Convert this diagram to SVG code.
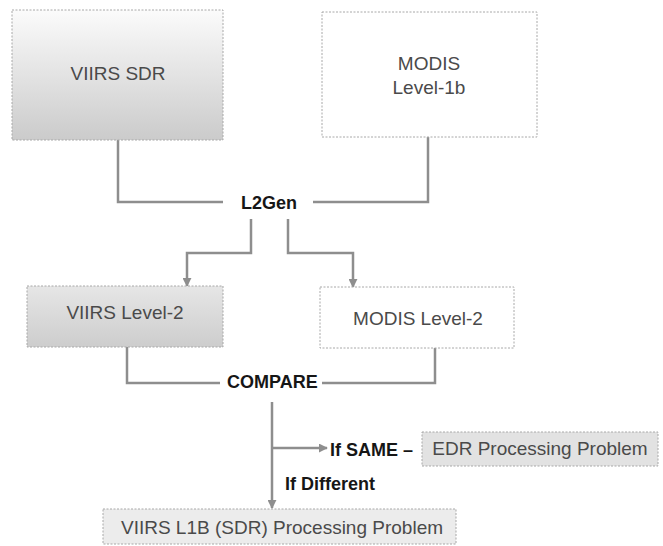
<svg xmlns="http://www.w3.org/2000/svg" width="663" height="546" viewBox="0 0 663 546">
  <style>
    .box { stroke: #a8a8a8; stroke-width: 1; stroke-dasharray: 2 1.5; }
    .lbl { font-family: "Liberation Sans", Arial, sans-serif; font-size: 19px; fill: #4a4a4a; text-anchor: middle; }
    .bold { font-family: "Liberation Sans", Arial, sans-serif; font-size: 18px; font-weight: bold; fill: #161616; }
    .conn { fill: none; stroke: #8e8e8e; stroke-width: 2.5; }
  </style>
  <defs>
    <linearGradient id="gSdr" x1="0" y1="0" x2="0" y2="1">
      <stop offset="0" stop-color="#fbfbfb"/>
      <stop offset="1" stop-color="#cbcbcb"/>
    </linearGradient>
    <linearGradient id="gL2" x1="0" y1="0" x2="0" y2="1">
      <stop offset="0" stop-color="#e6e6e6"/>
      <stop offset="1" stop-color="#cdcdcd"/>
    </linearGradient>
    <marker id="arr" viewBox="0 0 10 10" refX="9" refY="5" markerWidth="9" markerHeight="9" markerUnits="userSpaceOnUse" orient="auto">
      <path d="M0,0 L10,5 L0,10 z" fill="#8e8e8e"/>
    </marker>
  </defs>

  <g id="connectors">
    <path class="conn" d="M118,140 V202 H223"/>
    <path class="conn" d="M428,137 V202 H313"/>
    <path class="conn" d="M251,219 V253 H187 V286" marker-end="url(#arr)"/>
    <path class="conn" d="M288,219 V253 H353 V287" marker-end="url(#arr)"/>
    <path class="conn" d="M127,347 V383 H220"/>
    <path class="conn" d="M435,348 V383 H322"/>
    <path class="conn" d="M272,402 V508" marker-end="url(#arr)"/>
    <path class="conn" d="M272,448 H327" marker-end="url(#arr)"/>
  </g>

  <g id="viirs-sdr">
    <rect class="box" x="12" y="10" width="211" height="130" fill="url(#gSdr)"/>
    <text class="lbl" x="118" y="80">VIIRS SDR</text>
  </g>

  <g id="modis-l1b">
    <rect class="box" x="322" y="12" width="215" height="125" fill="#ffffff" stroke="#d4d4d4"/>
    <text class="lbl" x="429" y="70">MODIS</text>
    <text class="lbl" x="429" y="94">Level-1b</text>
  </g>

  <g id="l2gen">
    <text class="bold" x="241" y="209">L2Gen</text>
  </g>

  <g id="viirs-l2">
    <rect class="box" x="27" y="286" width="196" height="61" fill="url(#gL2)"/>
    <text class="lbl" x="125" y="319">VIIRS Level-2</text>
  </g>

  <g id="modis-l2">
    <rect class="box" x="320" y="287" width="194" height="61" fill="#ffffff" stroke="#d0d0d0"/>
    <text class="lbl" x="418" y="325">MODIS Level-2</text>
  </g>

  <g id="compare">
    <text class="bold" x="227" y="388" font-size="17">COMPARE</text>
  </g>

  <g id="if-same">
    <text class="bold" x="330" y="456">If SAME –</text>
  </g>

  <g id="edr-problem">
    <rect class="box" x="422" y="432" width="236" height="34" fill="#e2e2e2"/>
    <text class="lbl" x="540" y="455">EDR Processing Problem</text>
  </g>

  <g id="if-different">
    <text class="bold" x="285" y="490">If Different</text>
  </g>

  <g id="viirs-l1b-problem">
    <rect class="box" x="103" y="509" width="353" height="35" fill="#ececec"/>
    <text class="lbl" x="282" y="534">VIIRS L1B (SDR) Processing Problem</text>
  </g>
</svg>
